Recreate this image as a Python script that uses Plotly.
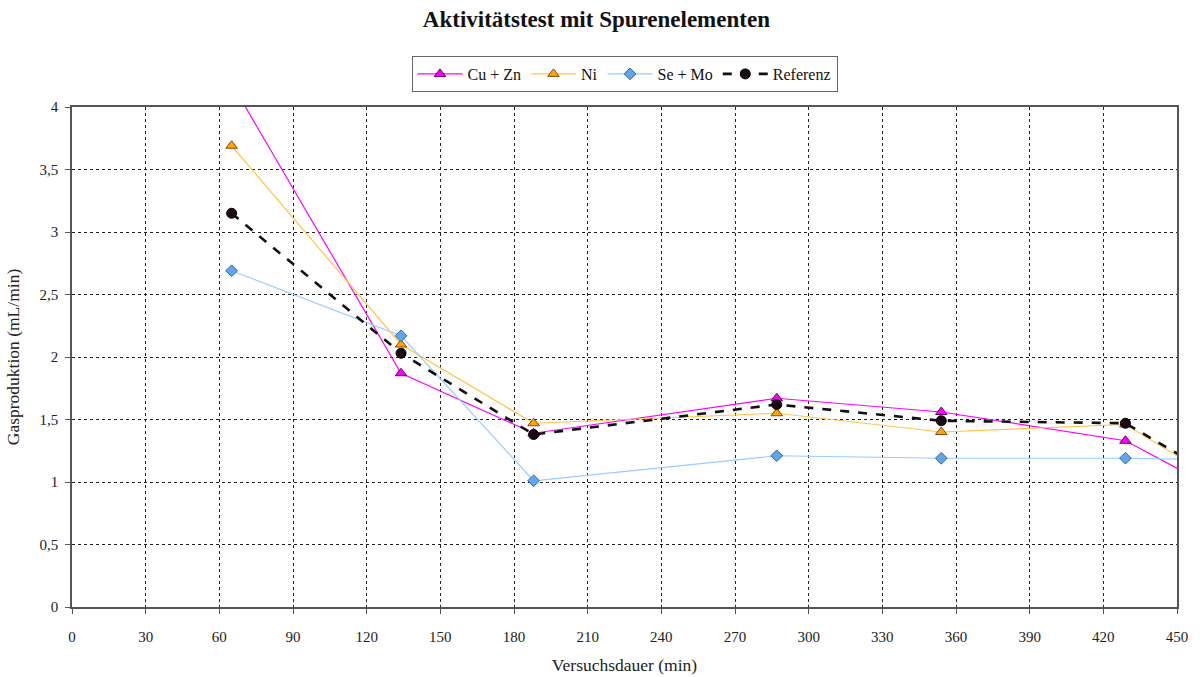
import plotly.graph_objects as go

# Versuchsdauer (min) for each measurement
zeit = [65, 134, 188, 287, 354, 429, 490]

# Gasproduktion (mL/min) per Versuchsreihe
cu_zn = [4.19, 1.87, 1.39, 1.67, 1.56, 1.33, 0.69]
ni = [3.69, 2.10, 1.47, 1.55, 1.40, 1.46, 0.73]
se_mo = [2.69, 2.17, 1.01, 1.21, 1.19, 1.19, 1.17]
referenz = [3.15, 2.03, 1.38, 1.62, 1.49, 1.47, 0.77]

x_ticks = list(range(0, 451, 30))
y_ticks = [0, 0.5, 1, 1.5, 2, 2.5, 3, 3.5, 4]

font_family = "Liberation Serif, Times New Roman, serif"

fig = go.Figure()

fig.add_trace(go.Scatter(
    x=zeit, y=cu_zn, name="Cu + Zn", mode="lines+markers",
    line=dict(color="#FF00FF", width=1.2),
    marker=dict(symbol="triangle-up", size=10, color="#FF00FF",
                line=dict(color="#660066", width=1)),
))
fig.add_trace(go.Scatter(
    x=zeit, y=ni, name="Ni", mode="lines+markers",
    line=dict(color="#FFC54A", width=1.2),
    marker=dict(symbol="triangle-up", size=10, color="#FFA500",
                line=dict(color="#8B4513", width=1)),
))
fig.add_trace(go.Scatter(
    x=zeit, y=se_mo, name="Se + Mo", mode="lines+markers",
    line=dict(color="#99CCFF", width=1.2),
    marker=dict(symbol="diamond", size=9, color="#5EA6EE",
                line=dict(color="#336699", width=1)),
))
fig.add_trace(go.Scatter(
    x=zeit, y=referenz, name="Referenz", mode="lines+markers",
    line=dict(color="#111111", width=2.6, dash="dash"),
    marker=dict(symbol="circle", size=10, color="#1A0A14",
                line=dict(color="#000000", width=1)),
))

fig.update_layout(
    width=1200, height=677,
    margin=dict(l=72, r=23, t=107, b=70, autoexpand=False),
    paper_bgcolor="white", plot_bgcolor="white",
    separators=", ",
    font=dict(family=font_family, size=15, color="#222222"),
    title=dict(
        text="<b>Aktivitätstest mit Spurenelementen</b>",
        x=0.497, xref="container", xanchor="center",
        y=0.972, yref="container", yanchor="middle",
        font=dict(family=font_family, size=23, color="#111111"),
    ),
    legend=dict(
        orientation="h", x=0.5, xanchor="center", y=1.102, yanchor="top",
        bordercolor="#666666", borderwidth=1,
        font=dict(family=font_family, size=16, color="#111111"),
        itemwidth=45, tracegroupgap=0,
    ),
    showlegend=True,
)

fig.update_xaxes(
    range=[0, 450], tickvals=x_ticks, ticktext=[str(v) for v in x_ticks],
    showgrid=True, gridcolor="#222222", griddash="dot", gridwidth=1.3,
    showline=True, linecolor="#555555", linewidth=1.5, mirror=True,
    ticks="outside", ticklen=5, tickcolor="#555555",
    ticklabelstandoff=10, automargin=False,
    zeroline=False,
    title=dict(text="Versuchsdauer (min)",
               font=dict(family=font_family, size=17.5, color="#222222")),
    tickfont=dict(family=font_family, size=15, color="#222222"),
)
fig.update_yaxes(
    range=[0, 4], tickvals=y_ticks,
    showgrid=True, gridcolor="#222222", griddash="dot", gridwidth=1.3,
    showline=True, linecolor="#555555", linewidth=1.5, mirror=True,
    ticks="outside", ticklen=5, tickcolor="#555555",
    ticklabelstandoff=4, automargin=False,
    zeroline=False,
    title=dict(text="Gasproduktion (mL/min)",
               font=dict(family=font_family, size=17.5, color="#222222")),
    tickfont=dict(family=font_family, size=15, color="#222222"),
)

fig.write_html("out.html")
